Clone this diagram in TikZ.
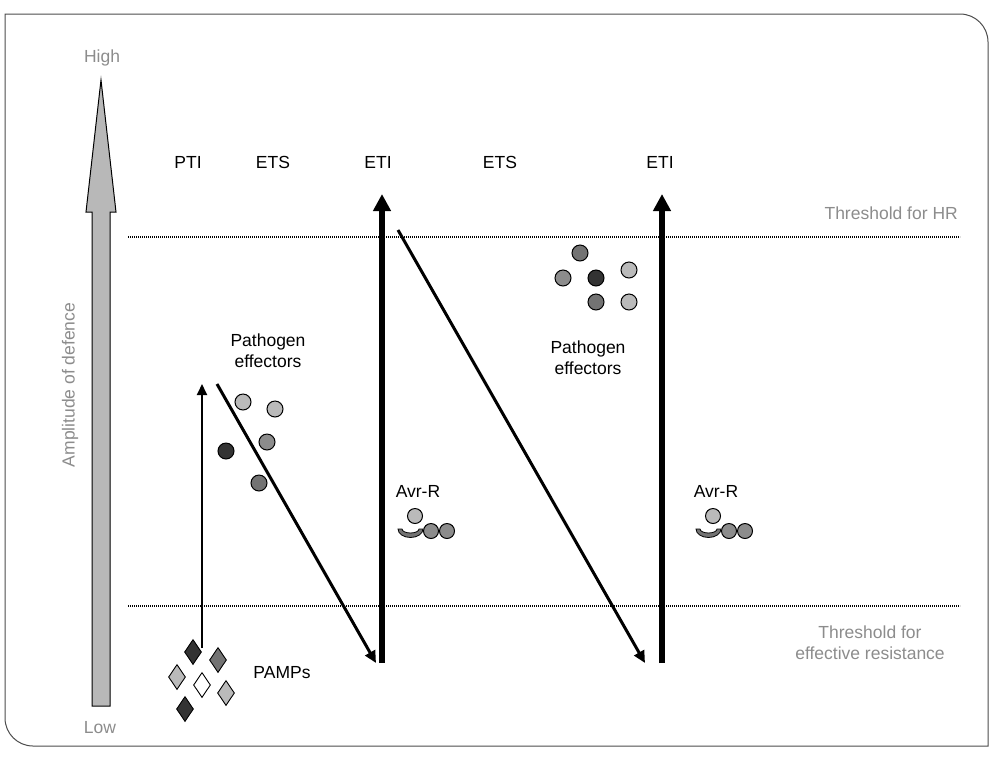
\documentclass[tikz,border=0pt]{standalone}
\usepackage{fontspec}
\setmainfont{Liberation Sans}
\usetikzlibrary{positioning,arrows.meta,shapes.geometric}

\begin{document}
\begin{tikzpicture}
    [x=1pt,y=-1pt,
    % Styles
    label text/.style={font=\fontsize{17.5}{21}\selectfont,inner sep=0pt},
    axis text/.style={label text,text=axisgray},
    threshold line/.style={line width=2pt,dash pattern=on 1.2pt off 0.8pt},
    effector/.style={circle,draw=black,line width=1pt,minimum size=16pt,inner sep=0pt},
    pamp/.style={diamond,draw=black,line width=0.9pt,minimum width=17pt,minimum height=25pt,inner sep=0pt},
    thin arrow/.style={line width=2pt,-{Triangle[length=11pt,width=10pt]}},
    slope arrow/.style={line width=3pt,-{Triangle[length=12pt,width=11pt]}},
    eti arrow/.style={line width=6pt,-{Triangle[length=17pt,width=17pt]}}]

    % Colors
    \colorlet{axisgray}{black!45}
    \colorlet{lightgray}{black!27}
    \colorlet{midgray}{black!45}
    \colorlet{darkgray}{black!55}
    \colorlet{blackgray}{black!80}

    \useasboundingbox (0,0) rectangle (990,756);

    % Frame
    \draw[black!70,line width=1pt] (5,14) -- (700,14) [rounded corners=28pt] -- (988,14) -- (988,300)
      [sharp corners] -- (988,746) -- (300,746) [rounded corners=28pt] -- (5,746) -- (5,400)
      [sharp corners] -- cycle;

    % Amplitude axis
    \filldraw[fill=black!28,draw=black,line width=1pt] (101,80) -- (116,212) -- (110,212) -- (110,706)
      -- (92,706) -- (92,212) -- (86,212) -- cycle;
    \node[axis text] (high) at (102,58) {High};
    \node[axis text] (low) at (100,728) {Low};
    \node[axis text,rotate=90] (amplitude) at (70,385) {Amplitude of defence};

    % Phases
    \foreach \x/\phase [count=\i] in {188/PTI, 273/ETS, 378/ETI, 500/ETS, 660/ETI}
    \node[label text] (phase\i) at (\x,162) {\phase};

    % Thresholds
    \coordinate (hr west) at (128,237);
    \coordinate (hr east) at (960,237);
    \coordinate (er west) at (128,606);
    \coordinate (er east) at (960,606);
    \draw[threshold line] (hr west) -- (hr east);
    \draw[threshold line] (er west) -- (er east);
    \node[axis text,anchor=east] (hr) at (958,213) {Threshold for HR};
    \node[axis text,align=center] (er) at (870,643) {Threshold for\\effective resistance};

    % PAMPs
    \foreach \x/\y/\c [count=\i] in {193/652/blackgray, 218/660/darkgray, 177/677/lightgray,
      202/685/white, 226/693/lightgray, 185/709/blackgray}
    \node[pamp,fill=\c] (pamp\i) at (\x,\y) {};
    \node[label text] (pamps) at (282,673) {PAMPs};

    % Pathogen effectors
    \foreach \x/\y/\c [count=\i] in {243/402/lightgray, 275/409/lightgray, 267/442/midgray,
      226/451/blackgray, 259/483/darkgray}
    \node[effector,fill=\c] (eff\i) at (\x,\y) {};
    \node[label text,align=center] (effectors1) at (268,351) {Pathogen\\effectors};

    \foreach \x/\y/\c [count=\i] in {580/253/darkgray, 563/278/midgray, 596/278/blackgray,
      629/270/lightgray, 596/302/darkgray, 629/302/lightgray}
    \node[effector,fill=\c] (effb\i) at (\x,\y) {};
    \node[label text,align=center] (effectors2) at (588,358) {Pathogen\\effectors};

    % Avr-R complexes
    \foreach \dx [count=\i] in {0,298}{
      \node[label text] (avr\i) at (418+\dx,491) {Avr-R};
      \node[effector,fill=lightgray,minimum size=15pt] (avr\i a) at (415+\dx,516) {};
      \filldraw[fill=darkgray,draw=black,line width=0.8pt] (398+\dx,529)
        arc[start angle=180,end angle=0,x radius=12.5,y radius=8.5]
        -- (419+\dx,529) arc[start angle=0,end angle=180,x radius=8.5,y radius=4] -- cycle;
      \node[effector,fill=midgray,minimum size=15pt] (avr\i b) at (431+\dx,531) {};
      \node[effector,fill=midgray,minimum size=15pt] (avr\i c) at (447+\dx,531) {};
    }

    % Arrows
    \coordinate (pti start) at (202,648);
    \coordinate (pti top) at (202,384);
    \coordinate (ets1 start) at (217,384);
    \coordinate (ets1 end) at (376,663);
    \coordinate (eti1 start) at (382,663);
    \coordinate (eti1 top) at (382,194);
    \coordinate (ets2 start) at (398,230);
    \coordinate (ets2 end) at (645,663);
    \coordinate (eti2 start) at (662,663);
    \coordinate (eti2 top) at (662,194);
    \draw[thin arrow] (pti start) -- (pti top);
    \draw[slope arrow] (ets1 start) -- (ets1 end);
    \draw[eti arrow] (eti1 start) -- (eti1 top);
    \draw[slope arrow] (ets2 start) -- (ets2 end);
    \draw[eti arrow] (eti2 start) -- (eti2 top);
\end{tikzpicture}
\end{document}
